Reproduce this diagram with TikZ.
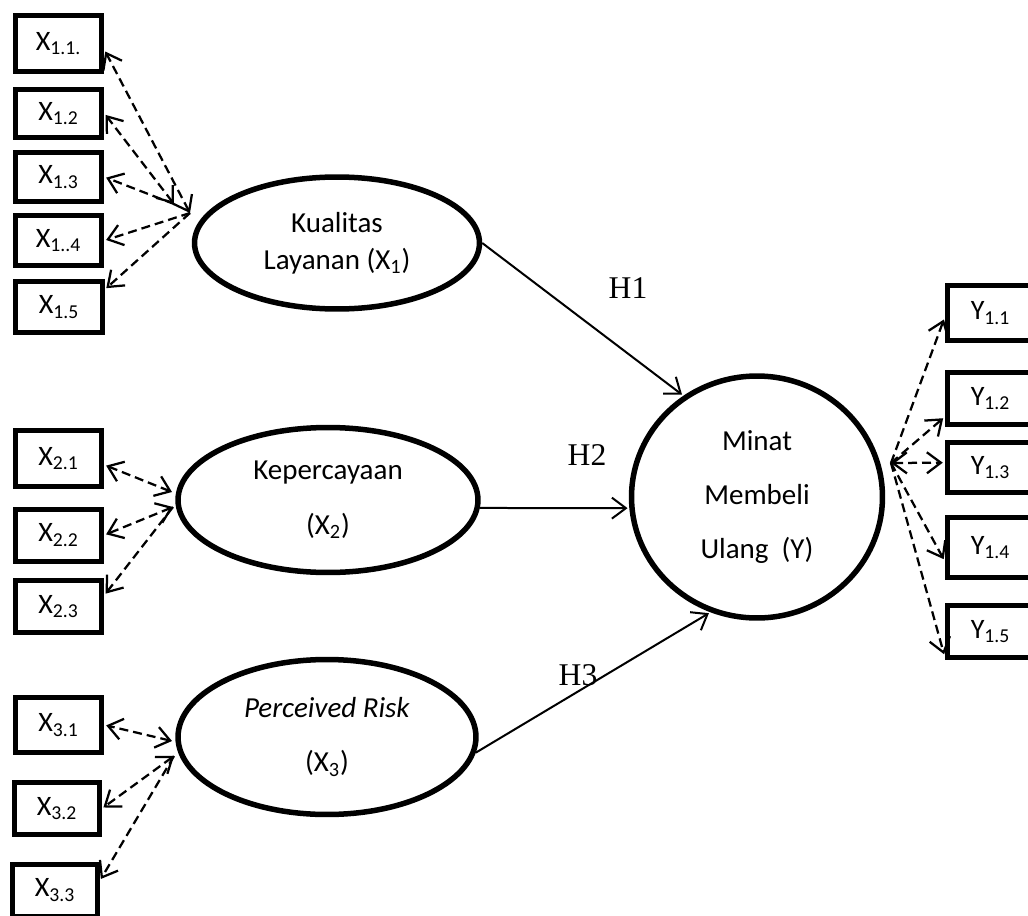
\documentclass[tikz,border=0pt]{standalone}
\usepackage{fontspec}
\setmainfont{Carlito}
\newfontfamily\hfont{Liberation Serif}
\usetikzlibrary{shapes.geometric,arrows.meta}

\begin{document}
\begin{tikzpicture}[x=0.02cm, y=-0.02cm, >={Straight Barb[length=0.28cm,width=0.42cm]}, shorten >=1pt,
   ind/.style={draw, line width=0.1cm, minimum width=1.74cm, minimum height=1.04cm, inner sep=0pt,
               font=\fontsize{16}{19}\selectfont},
   lat/.style={draw, ellipse, line width=0.11cm, inner sep=0pt, align=center,
               font=\fontsize{16.5}{21}\selectfont},
   load/.style={line width=0.045cm, dash pattern=on 0.18cm off 0.1cm},
   hyp/.style={line width=0.04cm, ->},
   hlab/.style={font=\hfont\fontsize{18}{20}\selectfont}]
   \useasboundingbox (0,0) rectangle (1028,916);
   % latent variables
   \node[lat, minimum width=5.7cm, minimum height=2.64cm]  (kl) at (337,243) {Kualitas\\Layanan (X\textsubscript{1})};
   \node[lat, minimum width=6.0cm, minimum height=2.9cm]   (kp) at (328,500) {Kepercayaan\\[10pt](X\textsubscript{2})};
   \node[lat, minimum width=5.96cm, minimum height=3.1cm]  (pr) at (327,737) {\textit{Perceived Risk}\\[10pt](X\textsubscript{3})};
   \node[lat, minimum width=5.02cm, minimum height=4.84cm] (mb) at (757,497) {Minat\\[10pt]Membeli\\[10pt]Ulang~ (Y)};
   % indicators
   \node[ind, minimum height=1.12cm] (x11) at (58.5,43.5)  {X\textsubscript{1.1.}};
   \node[ind, minimum height=0.96cm] (x12) at (58.5,113.5) {X\textsubscript{1.2}};
   \node[ind, minimum height=0.98cm] (x13) at (58.5,177)   {X\textsubscript{1.3}};
   \node[ind, minimum height=1.0cm]  (x14) at (58.5,240.5) {X\textsubscript{1..4}};
   \node[ind]                        (x15) at (59,307)     {X\textsubscript{1.5}};
   \node[ind, minimum height=1.12cm] (x21) at (58.5,458.5) {X\textsubscript{2.1}};
   \node[ind]                        (x22) at (58.5,535)   {X\textsubscript{2.2}};
   \node[ind]                        (x23) at (58.5,606.5) {X\textsubscript{2.3}};
   \node[ind, minimum height=1.1cm]  (x31) at (58.5,725)   {X\textsubscript{3.1}};
   \node[ind, minimum width=1.7cm]   (x32) at (57,808.5)   {X\textsubscript{3.2}};
   \node[ind, minimum width=1.7cm]   (x33) at (55,890)     {X\textsubscript{3.3}};
   \node[ind, minimum height=1.1cm]  (y11) at (990.5,313)   {Y\textsubscript{1.1}};
   \node[ind]                        (y12) at (990.5,398.5) {Y\textsubscript{1.2}};
   \node[ind, minimum height=1.0cm]  (y13) at (990.5,467.5) {Y\textsubscript{1.3}};
   \node[ind, minimum height=1.2cm]  (y14) at (990.5,547.5) {Y\textsubscript{1.4}};
   \node[ind]                        (y15) at (990.5,631.5) {Y\textsubscript{1.5}};
   % meeting points of the loadings
   \coordinate (c1a) at (190,213);
   \coordinate (c1b) at (174,204);
   \coordinate (c2a) at (172,492);
   \coordinate (c2b) at (173,507);
   \coordinate (c3a) at (172,741);
   \coordinate (c3b) at (174,756);
   \coordinate (cy)  at (891,463);
   % loadings
   \path (c1a) edge [load, <->] (x11.-8)
         (c1b) edge [load, <->] (x12.east)
         (c1b) edge [load, ->]  (x13.east)
         (c1a) edge [load, ->]  (x14.east)
         (c1a) edge [load, ->]  (x15.21)
         (c2a) edge [load, <->] (x21.-8)
         (c2b) edge [load, <->] (x22.east)
         (c2b) edge [load, ->]  (x23.14)
         (c3a) edge [load, <->] (x31.east)
         (c3b) edge [load, <->] (x32.east)
         (c3b) edge [load, ->]  (x33.12)
         (cy)  edge [load, ->]  (y11.186)
         (cy)  edge [load, ->]  (y12.202)
         (cy)  edge [load, <->] (y13.174)
         (cy)  edge [load, ->]  (y14.196)
         (cy)  edge [load, ->]  (y15.208);
   % hypotheses
   \path (kl.east) edge [hyp] (mb.126)
         (kp.-3)   edge [hyp] (mb.185)
         (pr.-6)   edge [hyp] (mb.248);
   \node[hlab] (h1) at (628,288) {H1};
   \node[hlab] (h2) at (587,455) {H2};
   \node[hlab] (h3) at (578,675) {H3};
\end{tikzpicture}
\end{document}
